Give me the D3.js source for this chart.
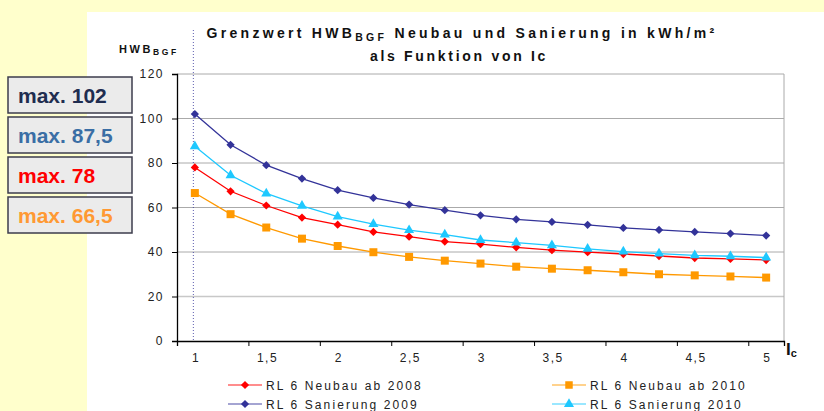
<!DOCTYPE html>
<html>
<head>
<meta charset="utf-8">
<script src="https://cdn.jsdelivr.net/npm/d3@7"></script>
<style>
body{margin:0;padding:0;background:#ffffcc;}
svg{display:block;font-family:"Liberation Sans",Arial,sans-serif;}
</style>
</head>
<body>
<svg id="chart" width="824" height="411"></svg>
<script>
// Ic categories and the labels shown on the axis
var icValues = [1, 1.25, 1.5, 1.75, 2, 2.25, 2.5, 2.75, 3, 3.25, 3.5, 3.75, 4, 4.25, 4.5, 4.75, 5];
var xLabels = [1, 1.5, 2, 2.5, 3, 3.5, 4, 4.5, 5];
var xTickMarks = [0.875, 1.375, 1.875, 2.375, 2.875, 3.375, 3.875, 4.375, 4.875, 5.125];
var yTicks = [0, 20, 40, 60, 80, 100, 120];

var neubau2008 = [78, 67.3, 60.9, 55.5, 52.3, 49.0, 46.9, 44.7, 43.5, 42.1, 40.8, 39.9, 39.1, 38.2, 37.3, 36.9, 36.4];
var neubau2010 = [66.5, 57, 51, 46.0, 42.7, 39.9, 37.8, 36.1, 34.8, 33.4, 32.5, 31.8, 30.9, 30.0, 29.5, 29.0, 28.5];
var sanierung2009 = [102, 88.2, 79, 73, 67.8, 64.3, 61.3, 58.8, 56.5, 54.7, 53.5, 52.2, 50.8, 49.9, 49.0, 48.3, 47.4];
var sanierung2010 = [87.5, 74.5, 66.3, 60.7, 55.9, 52.5, 49.8, 47.8, 45.4, 44.2, 43.0, 41.4, 40.2, 39.3, 38.5, 38.1, 37.5];

var boxLabels = ["max. 102", "max. 87,5", "max. 78", "max. 66,5"];
var boxColors = ["#1f2d50", "#3a6ea5", "#ff0000", "#ff9933"];

var series = [
  {name: "RL 6 Neubau ab 2008", values: neubau2008, color: "#ff0000", marker: "diamond"},
  {name: "RL 6 Neubau ab 2010", values: neubau2010, color: "#ff9900", marker: "square"},
  {name: "RL 6 Sanierung 2009", values: sanierung2009, color: "#333399", marker: "diamond"},
  {name: "RL 6 Sanierung 2010", values: sanierung2010, color: "#1ec8ff", marker: "triangle"}
];

var svg = d3.select("#chart");

// white sheet
svg.append("rect").attr("x", 87).attr("y", 12).attr("width", 737).attr("height", 399).attr("fill", "#ffffff");

var x = d3.scaleLinear().domain([0.875, 5.125]).range([177, 784]);
var y = d3.scaleLinear().domain([0, 120]).range([341, 74]);

// gridlines
svg.append("g").selectAll("line")
  .data(yTicks.filter(function(d){ return d > 0; }))
  .enter().append("line")
  .attr("x1", 177).attr("x2", 784)
  .attr("y1", function(d){ return y(d); }).attr("y2", function(d){ return y(d); })
  .attr("stroke", function(d){ return d == 20 ? "#c8c8c8" : "#aaaaaa"; })
  .attr("stroke-width", function(d){ return d == 20 ? 1.6 : 1; });
svg.append("line").attr("x1", 784).attr("x2", 784).attr("y1", y(120)).attr("y2", y(0))
  .attr("stroke", "#aaaaaa");

// dotted line at Ic = 1
svg.append("line")
  .attr("x1", x(1) - 1.5).attr("x2", x(1) - 1.5)
  .attr("y1", 30).attr("y2", y(0))
  .attr("stroke", "#333399").attr("stroke-width", 0.8).attr("stroke-dasharray", "1,2");

// axes
var yAxis = svg.append("g").attr("transform", "translate(177,0)")
  .call(d3.axisLeft(y).tickValues(yTicks).tickSize(5).tickPadding(8));
var xMarks = svg.append("g").attr("transform", "translate(0,341)")
  .call(d3.axisBottom(x).tickValues(xTickMarks).tickSize(5).tickFormat(""));
var xAxis = svg.append("g").attr("transform", "translate(0,341)")
  .call(d3.axisBottom(x).tickValues(xLabels).tickSize(0).tickPadding(12)
    .tickFormat(function(d){ return String(d).replace(".", ","); }));
xAxis.select(".domain").remove();
[yAxis, xMarks, xAxis].forEach(function(g){
  g.selectAll(".domain").attr("stroke", "#000").attr("stroke-width", 1.3);
  g.selectAll(".tick line").attr("stroke", "#000");
  g.selectAll("text").attr("font-size", 12).attr("fill", "#222")
    .attr("font-family", "Liberation Sans, Arial, sans-serif").style("letter-spacing", "1.5px");
});
xAxis.selectAll("text").attr("dx", 0.75);

function markerPath(type, big){
  if (type == "square") return d3.symbol().type(d3.symbolSquare).size(big ? 64 : 56)();
  if (type == "triangle") return d3.symbol().type(d3.symbolTriangle).size(44)();
  return d3.symbol().type(d3.symbolSquare).size(34)();
}

var line = d3.line()
  .x(function(d, i){ return x(icValues[i]); })
  .y(function(d){ return y(d); });

var order = [1, 0, 3, 2];
order.forEach(function(k){
  var s = series[k];
  var g = svg.append("g");
  g.append("path").attr("d", line(s.values)).attr("fill", "none")
    .attr("stroke", s.color).attr("stroke-width", 1.3);
  g.selectAll("path.m").data(s.values).enter().append("path")
    .attr("class", "m")
    .attr("d", markerPath(s.marker, true))
    .attr("transform", function(d, i){
      return "translate(" + x(icValues[i]) + "," + y(d) + ")" + (s.marker == "diamond" ? " rotate(45)" : "");
    })
    .attr("fill", s.color);
});

// title
var title = svg.append("text").attr("x", 462).attr("y", 38).attr("text-anchor", "middle")
  .attr("font-size", 14).attr("font-weight", "bold").attr("fill", "#111").style("letter-spacing", "3.3px");
title.append("tspan").text("Grenzwert HWB");
title.append("tspan").attr("font-size", 10.5).attr("dy", 3).text("BGF");
title.append("tspan").attr("dy", -3).text(" Neubau und Sanierung in kWh/m²");
svg.append("text").attr("x", 459).attr("y", 61).attr("text-anchor", "middle")
  .attr("font-size", 14).attr("font-weight", "bold").attr("fill", "#111").style("letter-spacing", "2.7px")
  .text("als Funktion von Ic");

// y label
var yl = svg.append("text").attr("x", 119).attr("y", 53)
  .attr("font-size", 11).attr("font-weight", "bold").attr("fill", "#111").style("letter-spacing", "2.6px");
yl.append("tspan").text("HWB");
yl.append("tspan").attr("font-size", 8.5).attr("dy", 2).text("BGF");

// x label
var xl = svg.append("text").attr("x", 786).attr("y", 355)
  .attr("font-size", 17).attr("font-weight", "bold").attr("fill", "#111");
xl.append("tspan").text("I");
xl.append("tspan").attr("font-size", 11).attr("dy", 2).text("c");

// legend
var legendPos = [[228, 385], [552, 385], [228, 404], [552, 404]];
series.forEach(function(s, k){
  var p = legendPos[k];
  var g = svg.append("g").attr("transform", "translate(" + p[0] + "," + p[1] + ")");
  g.append("line").attr("x1", 0).attr("x2", 34).attr("stroke", s.color).attr("stroke-opacity", 0.6).attr("stroke-width", 1.5);
  g.append("path").attr("d", markerPath(s.marker, false))
    .attr("transform", "translate(17,0)" + (s.marker == "diamond" ? " rotate(45)" : ""))
    .attr("fill", s.color);
  g.append("text").attr("x", 38).attr("y", 4.5).attr("font-size", 12).attr("fill", "#222")
    .style("letter-spacing", "2.1px").text(s.name);
});

// boxes on the left
var boxes = svg.append("g").selectAll("g").data(boxLabels).enter().append("g")
  .attr("transform", function(d, i){ return "translate(8," + (77 + i * 40) + ")"; });
boxes.append("rect").attr("width", 124).attr("height", 36)
  .attr("fill", "#ebebeb").attr("stroke", "#3c3c4c").attr("stroke-width", 1.5);
boxes.append("text").attr("x", 10).attr("y", 26).attr("font-size", 21).attr("font-weight", "bold")
  .attr("fill", function(d, i){ return boxColors[i]; }).text(function(d){ return d; });
</script>
</body>
</html>
